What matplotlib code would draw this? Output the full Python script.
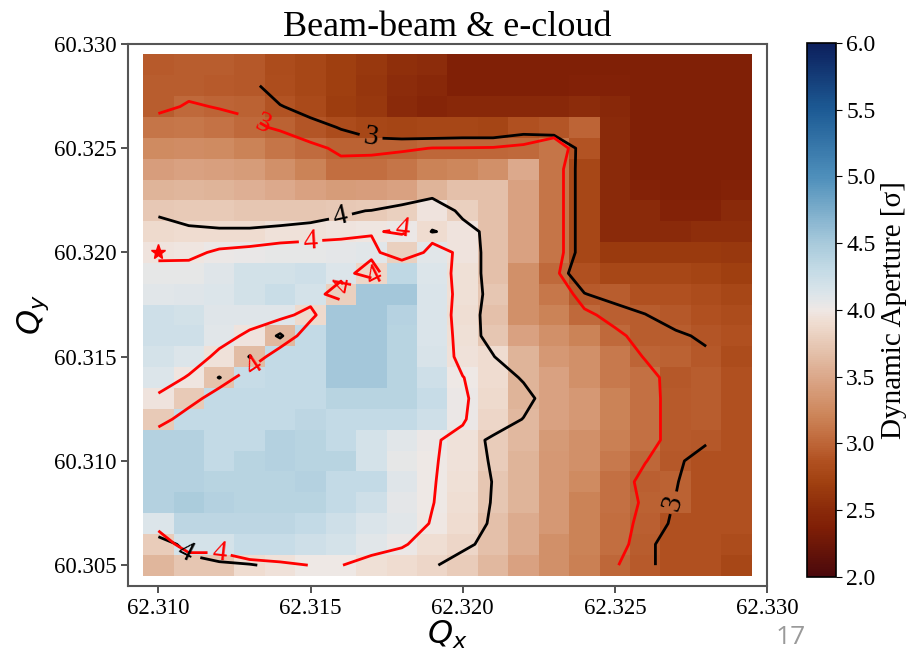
import numpy as np
import matplotlib
matplotlib.use("Agg")
import matplotlib.pyplot as plt
from matplotlib.colors import LinearSegmentedColormap

plt.rcParams['font.family'] = ['Liberation Serif', 'DejaVu Serif']
plt.rcParams['mathtext.fontset'] = 'dejavusans'

# tune scan grid (cell centres)
qx = [62.310, 62.311, 62.312, 62.313, 62.314, 62.315, 62.316, 62.317, 62.318, 62.319,
      62.320, 62.321, 62.322, 62.323, 62.324, 62.325, 62.326, 62.327, 62.328, 62.329]
qy = [60.305, 60.306, 60.307, 60.308, 60.309, 60.310, 60.311, 60.312, 60.313, 60.314,
      60.315, 60.316, 60.317, 60.318, 60.319, 60.320, 60.321, 60.322, 60.323, 60.324,
      60.325, 60.326, 60.327, 60.328, 60.329]

# dynamic aperture, beam-beam & e-cloud (rows listed from top Qy=60.329 down to 60.305)
da_bb_ec = [
    [2.93, 2.95, 2.95, 2.92, 2.82, 2.78, 2.70, 2.63, 2.56, 2.52, 2.38, 2.38, 2.38, 2.38, 2.38, 2.38, 2.38, 2.38, 2.38, 2.38],
    [2.94, 2.94, 2.93, 2.92, 2.83, 2.78, 2.70, 2.62, 2.52, 2.47, 2.38, 2.38, 2.38, 2.38, 2.40, 2.40, 2.38, 2.38, 2.38, 2.38],
    [2.95, 3.02, 2.99, 2.97, 2.88, 2.80, 2.68, 2.64, 2.50, 2.45, 2.48, 2.48, 2.48, 2.48, 2.52, 2.48, 2.38, 2.38, 2.38, 2.38],
    [3.10, 3.12, 3.08, 3.03, 2.98, 2.90, 2.82, 2.78, 2.75, 2.78, 2.78, 2.76, 2.86, 2.90, 2.99, 2.50, 2.38, 2.38, 2.38, 2.38],
    [3.25, 3.27, 3.25, 3.20, 3.10, 3.04, 2.97, 2.97, 2.98, 3.003, 3.005, 3.01, 3.03, 3.10, 2.89, 2.50, 2.38, 2.38, 2.38, 2.38],
    [3.42, 3.45, 3.43, 3.40, 3.30, 3.20, 3.05, 3.06, 3.10, 3.20, 3.22, 3.30, 3.50, 3.10, 2.78, 2.50, 2.38, 2.38, 2.38, 2.38],
    [3.58, 3.60, 3.58, 3.55, 3.50, 3.45, 3.40, 3.42, 3.45, 3.58, 3.68, 3.68, 3.45, 3.10, 2.78, 2.50, 2.42, 2.38, 2.38, 2.42],
    [3.74, 3.76, 3.75, 3.72, 3.72, 3.72, 3.74, 3.76, 3.80, 3.96, 3.80, 3.68, 3.45, 3.10, 2.78, 2.50, 2.50, 2.42, 2.42, 2.50],
    [3.88, 3.90, 3.90, 3.90, 3.94, 3.95, 3.96, 3.98, 4.03, 3.90, 3.96, 3.68, 3.45, 3.10, 2.78, 2.50, 2.50, 2.50, 2.54, 2.54],
    [3.96, 3.97, 4.02, 4.04, 4.05, 4.06, 4.07, 4.08, 3.80, 4.08, 3.96, 3.68, 3.45, 3.10, 2.78, 2.65, 2.65, 2.65, 2.65, 2.64],
    [4.06, 4.05, 4.10, 4.20, 4.20, 4.22, 4.12, 3.85, 4.34, 4.12, 3.925, 3.68, 3.30, 3.03, 2.86, 2.78, 2.78, 2.78, 2.74, 2.70],
    [4.08, 4.10, 4.12, 4.20, 4.25, 4.18, 3.80, 4.52, 4.52, 4.13, 3.935, 3.73, 3.30, 3.12, 2.93, 2.95, 2.86, 2.86, 2.82, 2.78],
    [4.22, 4.20, 4.10, 4.10, 4.10, 3.88, 4.52, 4.52, 4.40, 4.13, 3.92, 3.68, 3.30, 3.20, 3.03, 2.955, 2.95, 2.92, 2.86, 2.82],
    [4.22, 4.22, 4.08, 3.96, 3.62, 4.30, 4.52, 4.52, 4.38, 4.13, 3.936, 3.73, 3.45, 3.30, 3.20, 3.03, 2.951, 2.95, 2.90, 2.86],
    [4.18, 4.12, 3.95, 3.65, 4.30, 4.30, 4.52, 4.52, 4.38, 4.15, 3.94, 3.90, 3.58, 3.37, 3.30, 3.13, 2.986, 2.98, 2.92, 2.82],
    [4.12, 3.98, 3.70, 4.27, 4.30, 4.30, 4.52, 4.52, 4.38, 4.22, 4.005, 3.90, 3.58, 3.45, 3.30, 3.13, 3.07, 2.92, 2.95, 2.86],
    [3.96, 3.76, 4.30, 4.30, 4.30, 4.30, 4.38, 4.38, 4.38, 4.27, 4.03, 3.88, 3.58, 3.45, 3.37, 3.20, 3.07, 2.93, 2.95, 2.86],
    [3.75, 4.30, 4.30, 4.30, 4.30, 4.35, 4.30, 4.30, 4.30, 4.22, 4.02, 3.85, 3.62, 3.45, 3.37, 3.20, 3.07, 2.93, 2.95, 2.86],
    [4.42, 4.42, 4.30, 4.30, 4.42, 4.38, 4.30, 4.18, 4.08, 4.02, 3.95, 3.78, 3.62, 3.38, 3.30, 3.18, 3.07, 2.93, 2.92, 2.86],
    [4.42, 4.42, 4.30, 4.38, 4.42, 4.38, 4.38, 4.18, 4.05, 4.015, 3.94, 3.78, 3.58, 3.37, 3.30, 3.13, 3.005, 2.92, 2.86, 2.86],
    [4.42, 4.42, 4.38, 4.38, 4.38, 4.42, 4.30, 4.30, 4.10, 4.01, 3.93, 3.73, 3.58, 3.37, 3.25, 3.07, 2.96, 2.97, 2.86, 2.86],
    [4.42, 4.47, 4.42, 4.38, 4.38, 4.38, 4.30, 4.22, 4.07, 4.005, 3.92, 3.73, 3.58, 3.37, 3.20, 3.07, 2.98, 2.98, 2.86, 2.86],
    [4.12, 4.35, 4.35, 4.35, 4.35, 4.30, 4.22, 4.13, 4.08, 3.99, 3.90, 3.68, 3.53, 3.37, 3.20, 3.06, 2.96, 2.86, 2.86, 2.86],
    [3.78, 4.18, 4.18, 4.27, 4.27, 4.22, 4.18, 4.08, 4.02, 3.92, 3.85, 3.68, 3.53, 3.30, 3.20, 3.05, 2.94, 2.86, 2.86, 2.82],
    [3.60, 3.73, 3.73, 3.90, 3.95, 4.005, 4.005, 3.93, 3.90, 3.85, 3.78, 3.62, 3.45, 3.30, 3.18, 3.01, 2.93, 2.86, 2.86, 2.78],
]

# reference scan (beam-beam only), smaller grid: Qx up to 62.328, Qy up to 60.328 (top row first)
da_bb = [
    [3.30, 3.22, 3.15, 3.05, 2.90, 2.85, 2.80, 2.75, 2.70, 2.65, 2.60, 2.60, 2.60, 2.60, 2.50, 2.45, 2.40, 2.40, 2.40],
    [3.40, 3.35, 3.30, 3.20, 3.01, 2.93, 2.88, 2.84, 2.80, 2.78, 2.76, 2.76, 2.76, 2.76, 2.60, 2.50, 2.45, 2.40, 2.40],
    [3.50, 3.45, 3.42, 3.35, 3.20, 3.06, 2.99, 2.96, 2.95, 2.955, 2.96, 2.95, 2.97, 2.97, 2.80, 2.60, 2.50, 2.45, 2.45],
    [3.60, 3.58, 3.55, 3.50, 3.40, 3.30, 3.10, 3.04, 3.04, 3.04, 3.04, 3.05, 3.06, 3.05, 2.98, 2.70, 2.55, 2.50, 2.50],
    [3.72, 3.70, 3.68, 3.63, 3.55, 3.50, 3.35, 3.35, 3.40, 3.45, 3.50, 3.40, 3.35, 3.14, 2.94, 2.75, 2.60, 2.55, 2.55],
    [3.85, 3.83, 3.82, 3.78, 3.75, 3.72, 3.60, 3.75, 3.95, 3.96, 3.85, 3.60, 3.50, 3.14, 2.94, 2.80, 2.65, 2.60, 2.60],
    [3.98, 3.95, 3.95, 3.95, 3.95, 3.96, 3.98, 4.005, 4.02, 4.06, 3.98, 3.75, 3.50, 3.14, 2.94, 2.82, 2.70, 2.65, 2.65],
    [4.05, 4.02, 4.01, 4.01, 4.02, 4.03, 4.05, 4.10, 4.12, 3.995, 4.03, 3.975, 3.50, 3.14, 2.94, 2.85, 2.75, 2.70, 2.70],
    [4.10, 4.10, 4.12, 4.15, 4.15, 4.20, 4.20, 4.20, 4.25, 4.20, 4.06, 3.96, 3.55, 3.14, 2.94, 2.88, 2.80, 2.75, 2.72],
    [4.15, 4.15, 4.20, 4.25, 4.25, 4.30, 4.30, 4.30, 4.30, 4.25, 4.06, 3.96, 3.60, 3.08, 2.91, 2.88, 2.82, 2.78, 2.75],
    [4.20, 4.20, 4.25, 4.25, 4.30, 4.30, 4.35, 4.40, 4.40, 4.30, 4.066, 3.966, 3.60, 3.20, 3.005, 2.95, 2.90, 2.85, 2.80],
    [4.20, 4.25, 4.25, 4.30, 4.25, 4.35, 4.40, 4.40, 4.40, 4.30, 4.057, 3.957, 3.65, 3.30, 3.15, 3.06, 3.005, 2.92, 2.85],
    [4.25, 4.25, 4.30, 4.20, 3.97, 4.30, 4.40, 4.40, 4.40, 4.30, 4.06, 3.96, 3.70, 3.40, 3.25, 3.15, 3.10, 3.03, 2.97],
    [4.25, 4.25, 4.30, 3.99, 4.25, 4.30, 4.40, 4.40, 4.35, 4.30, 4.10, 4.005, 3.90, 3.50, 3.35, 3.25, 3.20, 3.10, 3.03],
    [4.20, 4.25, 3.99, 4.25, 4.30, 4.30, 4.40, 4.40, 4.35, 4.30, 4.15, 4.05, 3.99, 3.60, 3.40, 3.30, 3.20, 3.15, 3.08],
    [4.20, 4.25, 4.30, 4.30, 4.30, 4.30, 4.35, 4.35, 4.30, 4.30, 4.20, 4.10, 4.03, 3.95, 3.50, 3.35, 3.25, 3.15, 3.10],
    [4.20, 4.25, 4.30, 4.30, 4.30, 4.30, 4.30, 4.30, 4.30, 4.25, 4.15, 4.05, 3.997, 3.80, 3.50, 3.35, 3.25, 3.15, 3.08],
    [4.25, 4.30, 4.30, 4.30, 4.30, 4.30, 4.30, 4.25, 4.20, 4.15, 4.04, 3.985, 3.85, 3.70, 3.50, 3.30, 3.20, 3.10, 3.03],
    [4.30, 4.30, 4.30, 4.30, 4.30, 4.30, 4.25, 4.20, 4.15, 4.10, 4.05, 3.99, 3.80, 3.60, 3.45, 3.30, 3.15, 3.04, 2.90],
    [4.25, 4.30, 4.30, 4.30, 4.30, 4.25, 4.25, 4.20, 4.15, 4.10, 4.06, 3.997, 3.80, 3.60, 3.40, 3.25, 3.10, 3.01, 2.90],
    [4.20, 4.25, 4.30, 4.30, 4.25, 4.25, 4.20, 4.20, 4.15, 4.10, 4.05, 3.995, 3.75, 3.55, 3.35, 3.20, 3.05, 2.995, 2.90],
    [4.07, 4.15, 4.20, 4.20, 4.20, 4.20, 4.20, 4.15, 4.15, 4.10, 4.04, 3.99, 3.70, 3.50, 3.30, 3.15, 3.03, 2.99, 2.90],
    [3.96, 4.026, 4.05, 4.10, 4.10, 4.15, 4.15, 4.15, 4.15, 4.15, 4.02, 3.97, 3.65, 3.45, 3.30, 3.12, 3.02, 2.96, 2.90],
    [3.90, 3.976, 3.99, 3.995, 4.015, 4.05, 4.10, 4.10, 4.05, 4.01, 3.96, 3.90, 3.60, 3.40, 3.25, 3.10, 3.02, 2.96, 2.90],
]

working_point = (62.310, 60.320)
contour_levels = [3, 4]

# label positions for the contour numbers
red_label_pos = [(62.3135, 60.3263), (62.3150, 60.3206), (62.3180, 60.3210),
                 (62.3170, 60.3191), (62.3160, 60.3183), (62.3130, 60.3148),
                 (62.3120, 60.3057)]
black_label_pos = [(62.3170, 60.3256), (62.3160, 60.3216), (62.3110, 60.3058),
                   (62.3269, 60.3080)]

# diverging brown -> white -> blue map
cmap_nodes = [(2.0, '#4a080c'), (2.37, '#801f06'), (2.5, '#8a2a0a'), (2.7, '#a04010'),
              (2.86, '#b05020'), (3.0, '#be6638'), (3.2, '#cc8458'), (3.45, '#d9a282'),
              (3.68, '#e4c0aa'), (3.9, '#efdcd0'), (4.0, '#efe8e5'), (4.12, '#dce5ea'),
              (4.3, '#c4dbe6'), (4.52, '#a5c8da'), (5.0, '#4e8fbb'), (5.5, '#1d5b95'),
              (6.0, '#0c1f5c')]
cmap = LinearSegmentedColormap.from_list(
    'da', [((v - 2.0) / 4.0, c) for v, c in cmap_nodes])

z = np.array(da_bb_ec)[::-1]
z_ref = np.array(da_bb)[::-1]

fig = plt.figure(figsize=(9.18, 6.53), dpi=100)
ax = fig.add_axes([0.1394, 0.1026, 0.6961, 0.8300])
cax = fig.add_axes([0.879, 0.1164, 0.0316, 0.8178])

mesh = ax.pcolormesh(qx, qy, z, cmap=cmap, vmin=2, vmax=6, shading='nearest')

cs_ref = ax.contour(qx[:19], qy[:24], z_ref, levels=contour_levels,
                    colors='black', linewidths=2)
cs = ax.contour(qx, qy, z, levels=contour_levels, colors='red', linewidths=2)

ax.clabel(cs_ref, fmt='%d', fontsize=21, manual=black_label_pos, inline=True)
ax.clabel(cs, fmt='%d', fontsize=21, manual=red_label_pos, inline=True)

ax.plot(*working_point, marker='*', color='red', markersize=11, linestyle='none')

ax.set_xlim(62.309, 62.330)
ax.set_ylim(60.304, 60.330)
ax.set_xticks([62.310, 62.315, 62.320, 62.325, 62.330])
ax.set_yticks([60.305, 60.310, 60.315, 60.320, 60.325, 60.330])
ax.xaxis.set_major_formatter(plt.FormatStrFormatter('%.3f'))
ax.yaxis.set_major_formatter(plt.FormatStrFormatter('%.3f'))
ax.tick_params(labelsize=16.5, length=5, width=1.2, color='#333333')
for sp in ax.spines.values():
    sp.set_color('#555555')
    sp.set_linewidth(1.5)

ax.set_xlabel('$Q_x$', fontsize=23, labelpad=0)
ax.set_ylabel('$Q_y$', fontsize=23, labelpad=2)
ax.set_title('Beam-beam & e-cloud', fontsize=26, pad=5)

cb = fig.colorbar(mesh, cax=cax, ticks=[2.0, 2.5, 3.0, 3.5, 4.0, 4.5, 5.0, 5.5, 6.0])
cb.ax.yaxis.set_major_formatter(plt.FormatStrFormatter('%.1f'))
cb.ax.tick_params(labelsize=17, length=4)
cb.set_label('Dynamic Aperture [σ]', fontsize=21)
cb.outline.set_linewidth(1.2)

fig.text(0.861, 0.024, '17', color='#9a9a9a', fontsize=19, family='Open Sans',
         ha='center', va='center')

fig.savefig('out.png', dpi=100)
